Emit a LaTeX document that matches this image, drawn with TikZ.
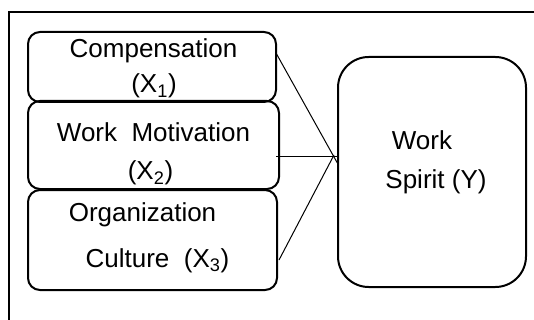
\documentclass[tikz,border=0pt]{standalone}
\usepackage{fontspec}
\setmainfont{Liberation Sans}
\usepackage{tikz}
\usetikzlibrary{calc}
\newcommand{\boxfont}{\fontsize{19.5}{27}\selectfont}

\begin{document}
\begin{tikzpicture}[x=0.75pt, y=-0.75pt,
    box/.style={draw, line width=1.5pt, rounded corners=9pt, inner sep=0pt},
    link/.style={line width=0.75pt},
    txt/.style={anchor=base, inner sep=0pt, font=\boxfont}]

  % --- Canvas (534 x 320 px) ---
  \clip (0,0) rectangle (534,320);

  % --- Outer frame (only top and left edge inside the page) ---
  \draw[line width=1.5pt] (9,330) -- (9,12.5) -- (545,12.5);

  % --- Boxes X1, X2, X3 ---
  \node[box, minimum width=186pt, minimum height=52.5pt] (comp) at (152,67) {};
  \node[box, minimum width=188.25pt, minimum height=66pt] (motiv) at (153.5,145) {};
  \node[box, minimum width=186.75pt, minimum height=75pt] (cult) at (152.5,240) {};

  % --- Box Y ---
  \node[box, rounded corners=23pt, minimum width=141pt, minimum height=172.5pt]
      (spirit) at (432,172) {};

  % --- Labels ---
  \node[txt] (comp1)   at (153.5,58) {Compensation};
  \node[txt] (comp2)   at (154,93)   {(X\textsubscript{1})};
  \node[txt] (motiv1)  at (153.5,142) {Work~~Motivation};
  \node[txt] (motiv2)  at (150.5,180) {(X\textsubscript{2})};
  \node[txt] (cult1)   at (142.5,221) {Organization};
  \node[txt] (cult2)   at (157.5,267) {Culture~~(X\textsubscript{3})};
  \node[txt] (spirit1) at (422,150)   {Work};
  \node[txt] (spirit2) at (436,188)   {Spirit (Y)};

  % --- Connectors: all meet at the left edge of Y ---
  \coordinate (hub) at (334,157);
  \coordinate (fromcomp)  at ($(comp.east)+(-1,-14)$);
  \coordinate (frommotiv) at ($(motiv.east)+(-4,12)$);
  \coordinate (fromcult)  at ($(cult.east)+(1,20)$);
  \coordinate (tomotiv)   at ($(spirit.west)+(2,-15)$);

  \draw[link] (fromcomp) -- ($(fromcomp)!1.076!(hub)$);
  \draw[link] (frommotiv) -- (tomotiv);
  \draw[link] (fromcult) -- ($(hub)+(0,-2)$);

\end{tikzpicture}
\end{document}
